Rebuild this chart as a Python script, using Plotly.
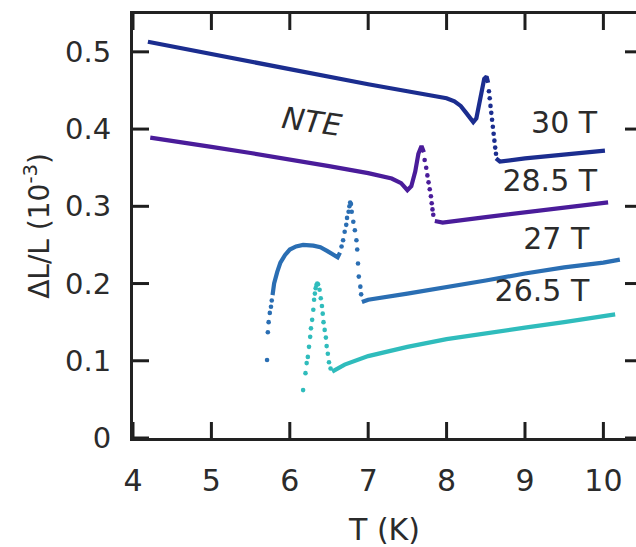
import plotly.graph_objects as go

# ---------------- data ----------------
# 30 T
t30_line1 = [4.19, 4.5, 5.0, 5.5, 6.0, 6.5, 7.0, 7.5, 8.0, 8.1, 8.18, 8.25, 8.30, 8.34, 8.38, 8.42, 8.45, 8.48, 8.51, 8.53]
d30_line1 = [0.513, 0.507, 0.497, 0.487, 0.477, 0.467, 0.458, 0.449, 0.440, 0.436, 0.430, 0.421, 0.413, 0.409, 0.414, 0.434, 0.452, 0.465, 0.468, 0.460]
t30_dots = [8.54, 8.55, 8.56, 8.57, 8.58, 8.59, 8.60, 8.61, 8.62, 8.63]
d30_dots = [0.449, 0.440, 0.430, 0.421, 0.412, 0.403, 0.394, 0.385, 0.376, 0.368]
t30_line2 = [8.63, 8.68, 9.0, 9.5, 10.02]
d30_line2 = [0.362, 0.358, 0.362, 0.367, 0.372]

# 28.5 T
t285_line1 = [4.22, 4.5, 5.0, 5.5, 6.0, 6.5, 7.0, 7.3, 7.42, 7.5, 7.55, 7.6, 7.64, 7.68, 7.71]
d285_line1 = [0.389, 0.385, 0.377, 0.369, 0.361, 0.352, 0.343, 0.336, 0.330, 0.321, 0.326, 0.345, 0.368, 0.378, 0.370]
t285_dots = [7.72, 7.74, 7.755, 7.77, 7.785, 7.80, 7.81, 7.82, 7.83]
d285_dots = [0.360, 0.350, 0.340, 0.331, 0.322, 0.313, 0.304, 0.296, 0.289]
t285_line2 = [7.85, 7.95, 8.5, 9.0, 9.5, 10.06]
d285_line2 = [0.281, 0.279, 0.286, 0.292, 0.298, 0.305]

# 27 T
t27_dots1 = [5.71, 5.72, 5.73, 5.745, 5.76, 5.77]
d27_dots1 = [0.101, 0.137, 0.150, 0.162, 0.170, 0.178]
t27_line1 = [5.78, 5.80, 5.84, 5.88, 5.94, 6.0, 6.08, 6.17, 6.3, 6.39, 6.48, 6.55, 6.61, 6.64]
d27_line1 = [0.185, 0.200, 0.215, 0.227, 0.237, 0.244, 0.248, 0.250, 0.249, 0.247, 0.242, 0.237, 0.234, 0.240]
t27_dots2 = [6.66, 6.68, 6.70, 6.72, 6.73, 6.75, 6.76, 6.77, 6.78, 6.79, 6.81, 6.83, 6.85, 6.86, 6.87, 6.88, 6.90, 6.91]
d27_dots2 = [0.248, 0.256, 0.267, 0.276, 0.285, 0.293, 0.300, 0.305, 0.303, 0.293, 0.280, 0.269, 0.256, 0.244, 0.226, 0.209, 0.196, 0.186]
t27_line2 = [6.92, 7.0, 7.5, 8.0, 8.5, 9.0, 9.5, 10.0, 10.21]
d27_line2 = [0.176, 0.179, 0.187, 0.195, 0.204, 0.213, 0.221, 0.227, 0.231]

# 26.5 T
t265_dots = [6.17, 6.20, 6.215, 6.23, 6.245, 6.26, 6.27, 6.285, 6.30, 6.31, 6.32, 6.33, 6.34, 6.35, 6.36,
             6.38, 6.395, 6.41, 6.42, 6.43, 6.445, 6.46, 6.47, 6.485, 6.50, 6.52]
d265_dots = [0.062, 0.084, 0.097, 0.105, 0.118, 0.131, 0.142, 0.153, 0.166, 0.179, 0.187, 0.194, 0.198, 0.200, 0.199,
             0.192, 0.181, 0.171, 0.161, 0.150, 0.140, 0.130, 0.119, 0.109, 0.098, 0.090]
t265_line = [6.54, 6.7, 7.0, 7.5, 8.0, 8.5, 9.0, 9.5, 10.15]
d265_line = [0.086, 0.095, 0.106, 0.118, 0.128, 0.136, 0.143, 0.150, 0.160]

series_names = ["30 T", "28.5 T", "27 T", "26.5 T"]
series_colors = ["#1b2d8f", "#4a1c9a", "#2a6eb3", "#2fbcbc"]
label_T = [9.92, 9.92, 9.82, 9.82]
label_d = [0.405, 0.329, 0.255, 0.187]

x_ticks = [4, 5, 6, 7, 8, 9, 10]
y_ticks = [0, 0.1, 0.2, 0.3, 0.4, 0.5]

# ---------------- figure ----------------
FONT = "DejaVu Sans"
TXT = "#2b2b2b"
AXC = "#222"
LW = 4.2
MS = 4.6
X_RANGE = [4, 10.416]
Y_RANGE = [0, 0.549]
PLOT_W, PLOT_H = 503, 424        # plot-area size in pixels (from margins)
TICK_PX, RTICK_PX = 16, 11

fig = go.Figure()


def add_line(t, d, color):
    fig.add_trace(go.Scatter(x=t, y=d, mode="lines", line=dict(color=color, width=LW)))


def add_dots(t, d, color):
    fig.add_trace(go.Scatter(x=t, y=d, mode="markers", marker=dict(color=color, size=MS)))


c30, c285, c27, c265 = series_colors
add_line(t30_line1, d30_line1, c30)
add_dots(t30_dots, d30_dots, c30)
add_line(t30_line2, d30_line2, c30)

add_line(t285_line1, d285_line1, c285)
add_dots(t285_dots, d285_dots, c285)
add_line(t285_line2, d285_line2, c285)

add_dots(t27_dots1, d27_dots1, c27)
add_line(t27_line1, d27_line1, c27)
add_dots(t27_dots2, d27_dots2, c27)
add_line(t27_line2, d27_line2, c27)

add_dots(t265_dots, d265_dots, c265)
add_line(t265_line, d265_line, c265)

# field labels as a text trace
fig.add_trace(go.Scatter(x=label_T, y=label_d, text=series_names, mode="text",
                         textposition="middle left",
                         textfont=dict(family=FONT, size=30, color=TXT)))

fig.add_annotation(x=6.28, y=0.41, text="<i>NTE</i>", showarrow=False, textangle=8,
                   font=dict(family=FONT, size=30, color=TXT))

# inward tick marks drawn as a line trace, built from the tick values and axis ranges
dy_tick = TICK_PX * (Y_RANGE[1] - Y_RANGE[0]) / PLOT_H
dx_tick = TICK_PX * (X_RANGE[1] - X_RANGE[0]) / PLOT_W
dx_rtick = RTICK_PX * (X_RANGE[1] - X_RANGE[0]) / PLOT_W
tx, ty = [], []
for v in x_ticks:
    tx += [v, v, None, v, v, None]
    ty += [Y_RANGE[0], Y_RANGE[0] + dy_tick, None, Y_RANGE[1] - dy_tick, Y_RANGE[1], None]
for v in y_ticks:
    tx += [X_RANGE[0], X_RANGE[0] + dx_tick, None, X_RANGE[1] - dx_rtick, X_RANGE[1], None]
    ty += [v, v, None, v, v, None]
fig.add_trace(go.Scatter(x=tx, y=ty, mode="lines", line=dict(color="#1e1e1e", width=3),
                         connectgaps=False, cliponaxis=False, hoverinfo="skip"))

fig.update_layout(
    width=636, height=547,
    margin=dict(l=133, r=0, t=14, b=109),
    paper_bgcolor="white", plot_bgcolor="white",
    showlegend=False,
    xaxis=dict(range=X_RANGE, tickvals=x_ticks, showline=True, mirror=True,
               linecolor=AXC, linewidth=3, ticks="",
               showgrid=False, zeroline=False, ticklabelstandoff=14,
               tickfont=dict(family=FONT, size=30, color=TXT),
               title=dict(text="T (K)", font=dict(family=FONT, size=30, color=TXT), standoff=24)),
    yaxis=dict(range=Y_RANGE, tickvals=y_ticks, showline=True, mirror=False,
               linecolor=AXC, linewidth=3, ticks="",
               showgrid=False, zeroline=False, ticklabelstandoff=13,
               tickfont=dict(family=FONT, size=29, color=TXT),
               title=dict(text="ΔL/L (10<sup>-3</sup>)", font=dict(family=FONT, size=28, color=TXT),
                          standoff=8)),
)

fig.write_html("out.html", config={"displayModeBar": False},
               post_script="document.body.style.margin='0';")
